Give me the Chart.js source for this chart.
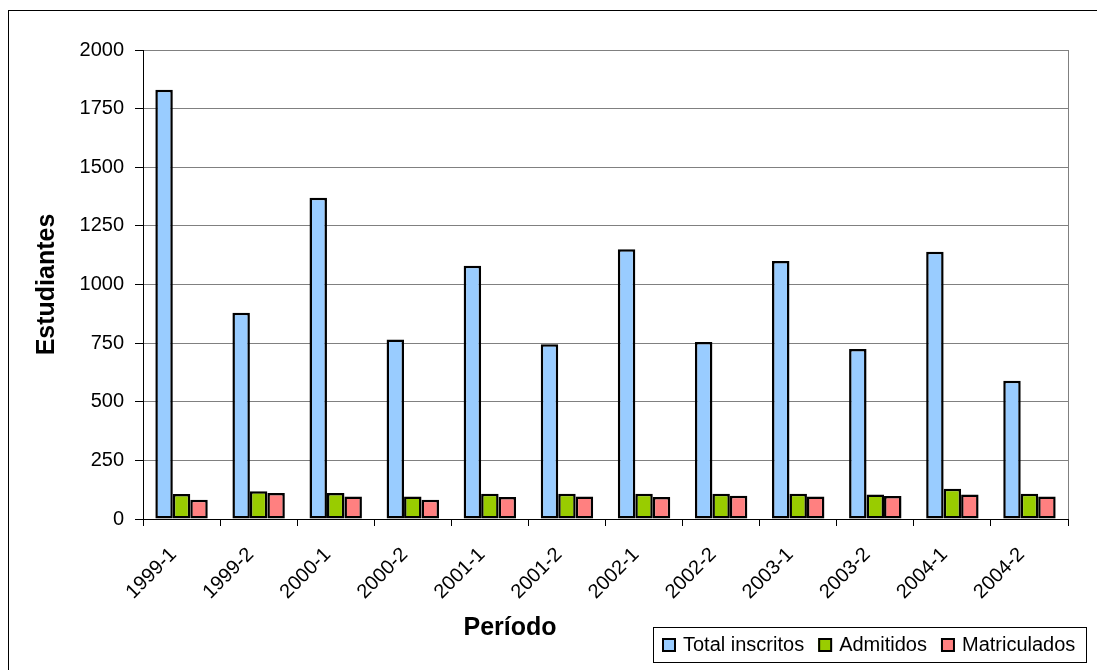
<!DOCTYPE html>
<html>
<head>
<meta charset="utf-8">
<script src="https://cdn.jsdelivr.net/npm/chart.js@4/dist/chart.umd.min.js"></script>
<style>
  html, body { margin: 0; padding: 0; background: #fff; }
  #wrap { width: 1097px; height: 670px; position: relative; }
</style>
</head>
<body>
<div id="wrap"><canvas id="c" width="1097" height="670"></canvas></div>
<script>
// Periods (semesters) and student counts per period
const periodos = ['1999-1','1999-2','2000-1','2000-2','2001-1','2001-2','2002-1','2002-2','2003-1','2003-2','2004-1','2004-2'];
const totalInscritos = [1830, 880, 1370, 765, 1080, 745, 1150, 755, 1100, 725, 1140, 590];
const admitidos      = [107, 118, 111, 96, 108, 108, 108, 108, 108, 105, 129, 108];
const matriculados   = [82, 111, 96, 82, 94, 96, 94, 99, 96, 98, 105, 96];
const yTicks = [0, 250, 500, 750, 1000, 1250, 1500, 1750, 2000];

const FONT = '"Liberation Sans", Arial, sans-serif';
const COLORS = ['#99CCFF', '#99CC00', '#FF8080'];

// Outer frame, plot border, x title and legend box
const decorations = {
  id: 'decorations',
  beforeDraw(chart) {
    const ctx = chart.ctx;
    ctx.save();
    ctx.fillStyle = '#fff';
    ctx.fillRect(0, 0, chart.width, chart.height);
    ctx.strokeStyle = '#000';
    ctx.lineWidth = 1;
    ctx.strokeRect(8.5, 10.5, 1200, 1000);
    ctx.restore();
  },
  beforeDatasetsDraw(chart) {
    const ctx = chart.ctx;
    const a = chart.chartArea;
    ctx.save();
    ctx.strokeStyle = '#808080';
    ctx.lineWidth = 1;
    ctx.beginPath();
    ctx.moveTo(Math.round(a.right) + 0.5, a.top);
    ctx.lineTo(Math.round(a.right) + 0.5, a.bottom);
    ctx.stroke();
    ctx.restore();
  },
  afterDraw(chart) {
    const ctx = chart.ctx;
    ctx.save();
    // x-axis title
    ctx.fillStyle = '#000';
    ctx.font = 'bold 25px ' + FONT;
    ctx.textAlign = 'center';
    ctx.textBaseline = 'middle';
    ctx.fillText('Período', 510, 628);

    // legend
    ctx.font = '20px ' + FONT;
    ctx.textAlign = 'left';
    const bx = 653, by = 627, bw = 433, bh = 35;
    ctx.strokeStyle = '#000';
    ctx.lineWidth = 1;
    ctx.strokeRect(bx + 0.5, by + 0.5, bw, bh);
    let x = 662;
    const my = by + 11;
    chart.data.datasets.forEach(ds => {
      ctx.fillStyle = ds.backgroundColor;
      ctx.fillRect(x, my, 13, 13);
      ctx.strokeStyle = '#000';
      ctx.lineWidth = 2;
      ctx.strokeRect(x + 1, my + 1, 12, 12);
      ctx.fillStyle = '#000';
      ctx.fillText(ds.label, x + 21, by + bh / 2 + 1);
      x += 21 + ctx.measureText(ds.label).width + 14;
    });
    ctx.restore();
  }
};

const ds = (label, data, color) => ({
  label, data,
  backgroundColor: color,
  borderColor: '#000',
  borderWidth: 2.5,
  borderSkipped: false,
  categoryPercentage: 0.68,
  barPercentage: 1.0
});

new Chart(document.getElementById('c'), {
  type: 'bar',
  data: {
    labels: periodos,
    datasets: [
      ds('Total inscritos', totalInscritos, COLORS[0]),
      ds('Admitidos', admitidos, COLORS[1]),
      ds('Matriculados', matriculados, COLORS[2])
    ]
  },
  options: {
    responsive: false,
    animation: false,
    devicePixelRatio: 1,
    layout: { padding: { left: 0, top: 50, right: 29, bottom: 0 } },
    plugins: {
      legend: { display: false },
      tooltip: { enabled: false }
    },
    scales: {
      x: {
        afterFit(scale) { scale.height = 151; },
        grid: {
          display: true,
          offset: true,
          drawOnChartArea: false,
          drawTicks: true,
          tickLength: 7,
          tickColor: '#000'
        },
        border: { display: true, color: '#000', width: 1 },
        ticks: {
          maxRotation: 45,
          minRotation: 45,
          autoSkip: false,
          color: '#000',
          padding: 17,
          labelOffset: -8,
          font: { family: FONT, size: 20 }
        }
      },
      y: {
        min: 0,
        max: 2000,
        afterFit(scale) { scale.width = 143; },
        afterBuildTicks(scale) { scale.ticks = yTicks.map(v => ({ value: v })); },
        grid: {
          color: '#808080',
          lineWidth: 1,
          drawTicks: true,
          tickLength: 8,
          tickColor: '#000'
        },
        border: { display: true, color: '#000', width: 1 },
        ticks: {
          color: '#000',
          padding: 11,
          font: { family: FONT, size: 20 },
          callback: (v) => String(v)
        },
        title: {
          display: true,
          text: 'Estudiantes',
          color: '#000',
          font: { family: FONT, size: 25, weight: 'bold' },
          padding: { top: 32, bottom: 0 }
        }
      }
    }
  },
  plugins: [decorations]
});
</script>
</body>
</html>
